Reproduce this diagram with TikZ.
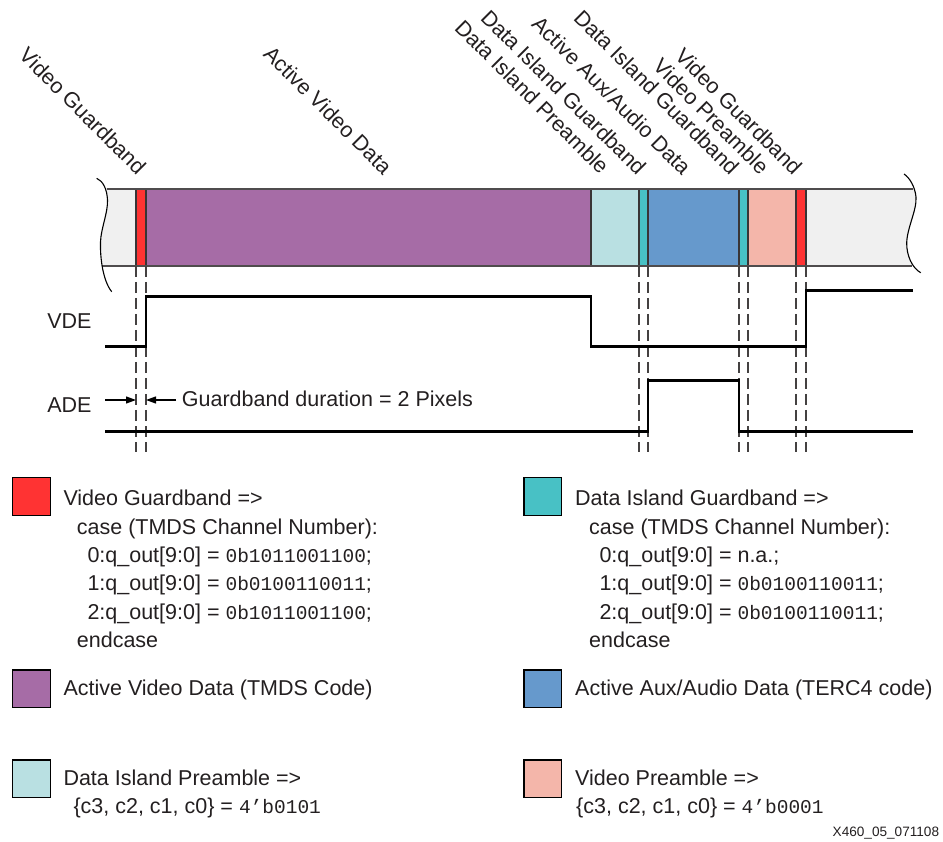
\documentclass[tikz,border=0pt]{standalone}
\usepackage{fontspec}
\setmainfont{Liberation Sans}
\setmonofont{Liberation Mono}
\usetikzlibrary{arrows.meta}
\definecolor{ink}{HTML}{231F20}
\definecolor{bandgray}{HTML}{F0F0F0}
\definecolor{vguard}{HTML}{FF3333}
\definecolor{vdata}{HTML}{A66CA6}
\definecolor{dpre}{HTML}{B9E0E2}
\definecolor{dguard}{HTML}{48C1C5}
\definecolor{adata}{HTML}{6699CC}
\definecolor{vpre}{HTML}{F4B6AA}
\newcommand{\bits}[1]{{\fontsize{19.5}{28.4}\selectfont\ttfamily #1}}

\begin{document}
\begin{tikzpicture}[x=1pt,y=-1pt,
    font=\fontsize{21.5}{28.4}\selectfont, text=ink,
    seg/.style={draw=ink!90, line width=1.5pt},
    barline/.style={draw=ink!80, line width=1.5pt},
    brk/.style={draw=black, line width=1.1pt},
    wave/.style={draw=black, line width=2.8pt, line join=miter},
    gbline/.style={draw=ink!85, line width=1.4pt, dash pattern=on 11pt off 5pt},
    lbl/.style={rotate=-45, anchor=base east, inner sep=0pt},
    sig/.style={anchor=base east, inner sep=0pt},
    keybox/.style={draw=black, line width=1.4pt, minimum size=37.5pt, inner sep=0pt},
    keytext/.style={anchor=base west, inner sep=0pt},
    dim/.style={-{Triangle[length=10pt,width=7pt]}, line width=1.2pt, draw=black}]
    \useasboundingbox (0,0) rectangle (943,842);

    % the pixel stream
    \begin{scope}
        \clip (90,189) rectangle (930,266);
        \fill[bandgray] (96.7,178.3) .. controls (103,181) and (107,189) .. (107.5,200)
            .. controls (108,213) and (101,228) .. (100.5,242)
            .. controls (100,258) and (103,281) .. (111.7,291.7) -- (136,291.7) -- (136,178.3) -- cycle;
        \fill[bandgray] (904,174) .. controls (910,178) and (915,187) .. (916,197)
            .. controls (917,210) and (907,228) .. (906.7,243)
            .. controls (906.5,255) and (912,268) .. (920.7,272.7) -- (806,272.7) -- (806,174) -- cycle;
    \end{scope}
    \foreach \xa/\xb/\col in {136/146/vguard, 146/591/vdata, 591/639/dpre, 639/648/dguard,
        648/739/adata, 739/748/dguard, 748/796/vpre, 796/806/vguard}
        \draw[seg, fill=\col] (\xa,189) rectangle (\xb,266);
    \draw[barline] (106.5,189) -- (913,189);
    \draw[barline] (102,266) -- (912,266);
    \draw[brk] (96.7,178.3) .. controls (103,181) and (107,189) .. (107.5,200)
        .. controls (108,213) and (101,228) .. (100.5,242)
        .. controls (100,258) and (103,281) .. (111.7,291.7);
    \draw[brk] (904,174) .. controls (910,178) and (915,187) .. (916,197)
        .. controls (917,210) and (907,228) .. (906.7,243)
        .. controls (906.5,255) and (912,268) .. (920.7,272.7);

    \node[lbl] (l1) at (137,176) {Video Guardband};
    \node[lbl] (l2) at (383,176) {Active Video Data};
    \node[lbl] (l3) at (600,175.5) {Data Island Preamble};
    \node[lbl] (l4) at (637,176.5) {Data Island Guardband};
    \node[lbl] (l5) at (682,176.5) {Active Aux/Audio Data};
    \node[lbl] (l6) at (730,176.5) {Data Island Guardband};
    \node[lbl] (l7) at (760,176) {Video Preamble};
    \node[lbl] (l8) at (793,176.5) {Video Guardband};

    % guardband edges and control signals
    \foreach \x [count=\i] in {136,146,639,648,739,748,796,806} {
        \coordinate (t\i) at (\x,266);
        \draw[gbline] (t\i) -- ++(0,185.7);
    }
    \node[sig] (vde) at (91.7,328.3) {VDE};
    \node[sig] (ade) at (91.7,412.7) {ADE};
    \draw[wave] (105,346.7) -| (t2 |- 0,296.7) -| (591,346.7) -| (t8 |- 0,290.7) -- (913,290.7);
    \draw[wave] (105,431.7) -| (t4 |- 0,380.7) -| (t5 |- 0,431.7) -- (913,431.7);

    \coordinate (gl) at (105,400);
    \coordinate (gr) at (176,400);
    \draw[dim] (gl) -- (gl -| t1);
    \draw[dim] (gr) -- (gr -| t2);
    \node[keytext] (gbnote) at (181.7,406.5) {Guardband duration = 2 Pixels};

    % legend
    \node[keybox, fill=vguard] (kvg) at (31.5,496.5) {};
    \node[keytext] (tvg) at (63.3,505.7) {\begin{tabular}[t]{@{}l@{}}
        Video Guardband =>\\
        \hspace*{13.4pt}case (TMDS Channel Number):\\
        \hspace*{24pt}0:q\_out[9:0] = \bits{0b1011001100};\\
        \hspace*{24pt}1:q\_out[9:0] = \bits{0b0100110011};\\
        \hspace*{24pt}2:q\_out[9:0] = \bits{0b1011001100};\\
        \hspace*{13.4pt}endcase
    \end{tabular}};
    \node[keybox, fill=dguard] (kdg) at (542.8,496.5) {};
    \node[keytext] (tdg) at (575,505.7) {\begin{tabular}[t]{@{}l@{}}
        Data Island Guardband =>\\
        \hspace*{14pt}case (TMDS Channel Number):\\
        \hspace*{24.3pt}0:q\_out[9:0] = n.a.;\\
        \hspace*{24.3pt}1:q\_out[9:0] = \bits{0b0100110011};\\
        \hspace*{24.3pt}2:q\_out[9:0] = \bits{0b0100110011};\\
        \hspace*{14pt}endcase
    \end{tabular}};
    \node[keybox, fill=vdata] (kvd) at (31.5,688.8) {};
    \node[keytext] (tvd) at (63.3,695.7) {Active Video Data (TMDS Code)};
    \node[keybox, fill=adata] (kad) at (542.8,688.8) {};
    \node[keytext] (tad) at (575,695.7) {Active Aux/Audio Data (TERC4 code)};
    \node[keybox, fill=dpre] (kdp) at (31.5,778.8) {};
    \node[keytext] (tdp) at (63.3,785) {\begin{tabular}[t]{@{}l@{}}
        Data Island Preamble =>\\
        \hspace*{10pt}\{c3, c2, c1, c0\} = \bits{4’b0101}
    \end{tabular}};
    \node[keybox, fill=vpre] (kvp) at (542.8,778.8) {};
    \node[keytext] (tvp) at (575,785) {\begin{tabular}[t]{@{}l@{}}
        Video Preamble =>\\
        \hspace*{1pt}\{c3, c2, c1, c0\} = \bits{4’b0001}
    \end{tabular}};

    \node[sig, font=\fontsize{13.6}{16}\selectfont] (fig) at (939.3,836.7) {X460\_05\_071108};
\end{tikzpicture}
\end{document}
